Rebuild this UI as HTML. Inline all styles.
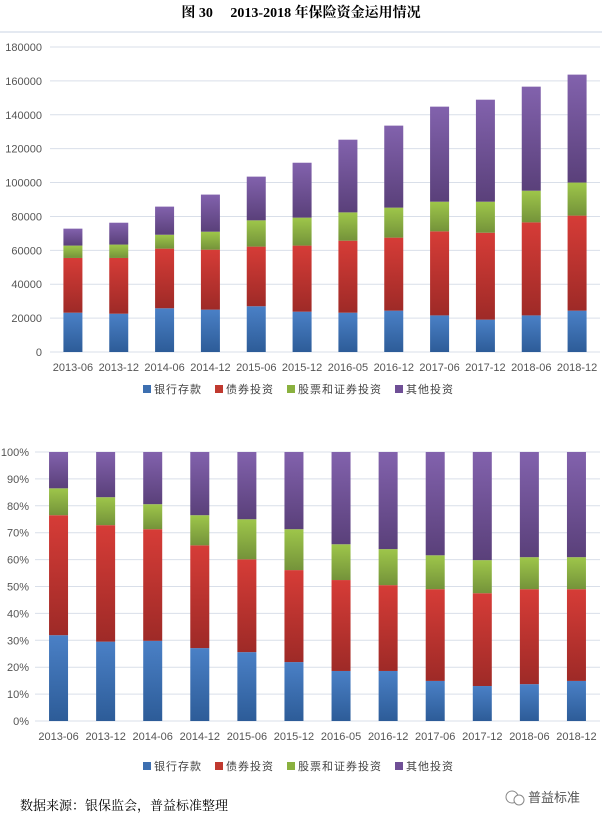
<!DOCTYPE html>
<html><head><meta charset="utf-8"><style>
body{margin:0;background:#fff;width:602px;height:822px;overflow:hidden;font-family:"Liberation Sans","Noto Sans CJK SC",sans-serif}
svg text{font-family:"Liberation Sans","Noto Sans CJK SC",sans-serif}
</style></head><body>
<svg id="s" width="602" height="822" xmlns="http://www.w3.org/2000/svg">
<defs>
<linearGradient id="gb" x1="0" y1="0" x2="0" y2="1"><stop offset="0" stop-color="#4a80c6"/><stop offset="1" stop-color="#2d5c98"/></linearGradient>
<linearGradient id="gr" x1="0" y1="0" x2="0" y2="1"><stop offset="0" stop-color="#d63c37"/><stop offset="1" stop-color="#9e2a27"/></linearGradient>
<linearGradient id="gg" x1="0" y1="0" x2="0" y2="1"><stop offset="0" stop-color="#9ec64a"/><stop offset="1" stop-color="#74933a"/></linearGradient>
<linearGradient id="gp" x1="0" y1="0" x2="0" y2="1"><stop offset="0" stop-color="#8262ad"/><stop offset="1" stop-color="#5a407a"/></linearGradient>
</defs>
<text x="301" y="17" text-anchor="middle" font-size="14" font-weight="bold" style="font-family:'Liberation Serif','Noto Serif CJK SC',serif">图 30&#160;&#160;&#160;&#160;&#160;2013-2018 年保险资金运用情况</text>
<line x1="0" y1="32" x2="602" y2="32" stroke="#c9d3e3" stroke-width="1"/>
<g id="top"></g>
<g id="bot"></g>
<text x="20" y="810" font-size="13" style="font-family:'Liberation Serif','Noto Serif CJK SC',serif">数据来源：银保监会，普益标准整理</text>
<circle cx="512" cy="797" r="6" fill="none" stroke="#888"/>
<circle cx="519" cy="800" r="5" fill="#fff" stroke="#888"/>
<text x="528" y="802" font-size="13" fill="#555">普益标准</text>
</svg>
<script>
const categories=["2013-06","2013-12","2014-06","2014-12","2015-06","2015-12","2016-05","2016-12","2017-06","2017-12","2018-06","2018-12"];
const seriesNames=["银行存款","债券投资","股票和证券投资","其他投资"];
const bankAbs=[23200,22600,25800,25000,27000,23800,23200,24400,21600,19100,21600,24400];
const bondAbs=[32300,32900,35200,35400,35200,39000,42500,43100,49600,51300,54900,56100];
const stockAbs=[7300,7900,8200,10600,15500,16500,16700,17700,17500,18300,18700,19500];
const otherAbs=[10000,12900,16600,21900,25800,32400,42900,48400,56100,60200,61400,63700];
const bankPct=[31.9,29.5,29.8,27.1,25.6,21.9,18.6,18.6,14.9,13.0,13.7,14.9];
const bondPct=[44.6,43.3,41.5,38.2,34.5,34.2,33.8,31.9,34.1,34.5,35.3,34.1];
const stockPct=[10.0,10.4,9.3,11.2,14.9,15.2,13.3,13.4,12.6,12.3,11.9,11.9];
const otherPct=[13.5,16.8,19.4,23.5,25.0,28.7,34.3,36.1,38.4,40.2,39.1,39.1];
const absTicks=[0,20000,40000,60000,80000,100000,120000,140000,160000,180000];
const pctTicks=[0,10,20,30,40,50,60,70,80,90,100];
const NS="http://www.w3.org/2000/svg";
const fills=["url(#gb)","url(#gr)","url(#gg)","url(#gp)"];
const legendColors=["#3d6fb0","#c0392f","#8ab13f","#6f4f96"];
function mk(p,t,a){const e=document.createElementNS(NS,t);for(const k in a)e.setAttribute(k,a[k]);p.appendChild(e);return e;}
function draw(g,cfg){
  const y=v=>cfg.y0-(v-cfg.min)/(cfg.max-cfg.min)*(cfg.y0-cfg.y1);
  const step=(cfg.xr-cfg.xl)/categories.length;
  const x=i=>cfg.xl+step*(i+0.5);
  cfg.ticks.forEach(t=>{
    const l=mk(g,"line",{x1:cfg.xl,x2:cfg.xr,y1:y(t),y2:y(t),stroke:"#d9dfe9","stroke-width":1});
    
    
    const tx=mk(g,"text",{x:cfg.tickX,y:y(t)+4,"text-anchor":"end","font-size":11,fill:"#555"});
    tx.textContent=cfg.fmt(t);
    
    
  });
  const series=cfg.series;
  categories.forEach((c,i)=>{
    let acc=0;
    series.forEach((s,k)=>{
      const r=mk(g,"rect",{x:x(i)-cfg.bw/2,y:y(acc+s[i]),width:cfg.bw,height:y(acc)-y(acc+s[i]),fill:fills[k]});
      
      
      acc+=s[i];
    });
    const t=mk(g,"text",{x:x(i),y:cfg.y0+19,"text-anchor":"middle","font-size":11,fill:"#555"});
    t.textContent=c;
    
    
  });
  const lx=[cfg.legX,cfg.legX+72,cfg.legX+144,cfg.legX+252];
  seriesNames.forEach((n,k)=>{
    const r=mk(g,"rect",{x:lx[k],y:cfg.legY-8,width:8,height:8,fill:legendColors[k]});
    
    
    const t=mk(g,"text",{x:lx[k]+11,y:cfg.legY,"font-size":11,fill:"#444","letter-spacing":"1"});
    t.textContent=n;
    
    
  });
}
draw(document.getElementById("top"),{xl:50,xr:600,y0:352,y1:47,min:0,max:180000,ticks:absTicks,tickX:42,fmt:v=>String(v),bw:19,
  series:[bankAbs,bondAbs,stockAbs,otherAbs],legX:143,legY:393});
draw(document.getElementById("bot"),{xl:35,xr:600,y0:721,y1:452,min:0,max:100,ticks:pctTicks,tickX:29,fmt:v=>v+"%",bw:19,
  series:[bankPct,bondPct,stockPct,otherPct],legX:143,legY:770});
</script>
</body></html>
